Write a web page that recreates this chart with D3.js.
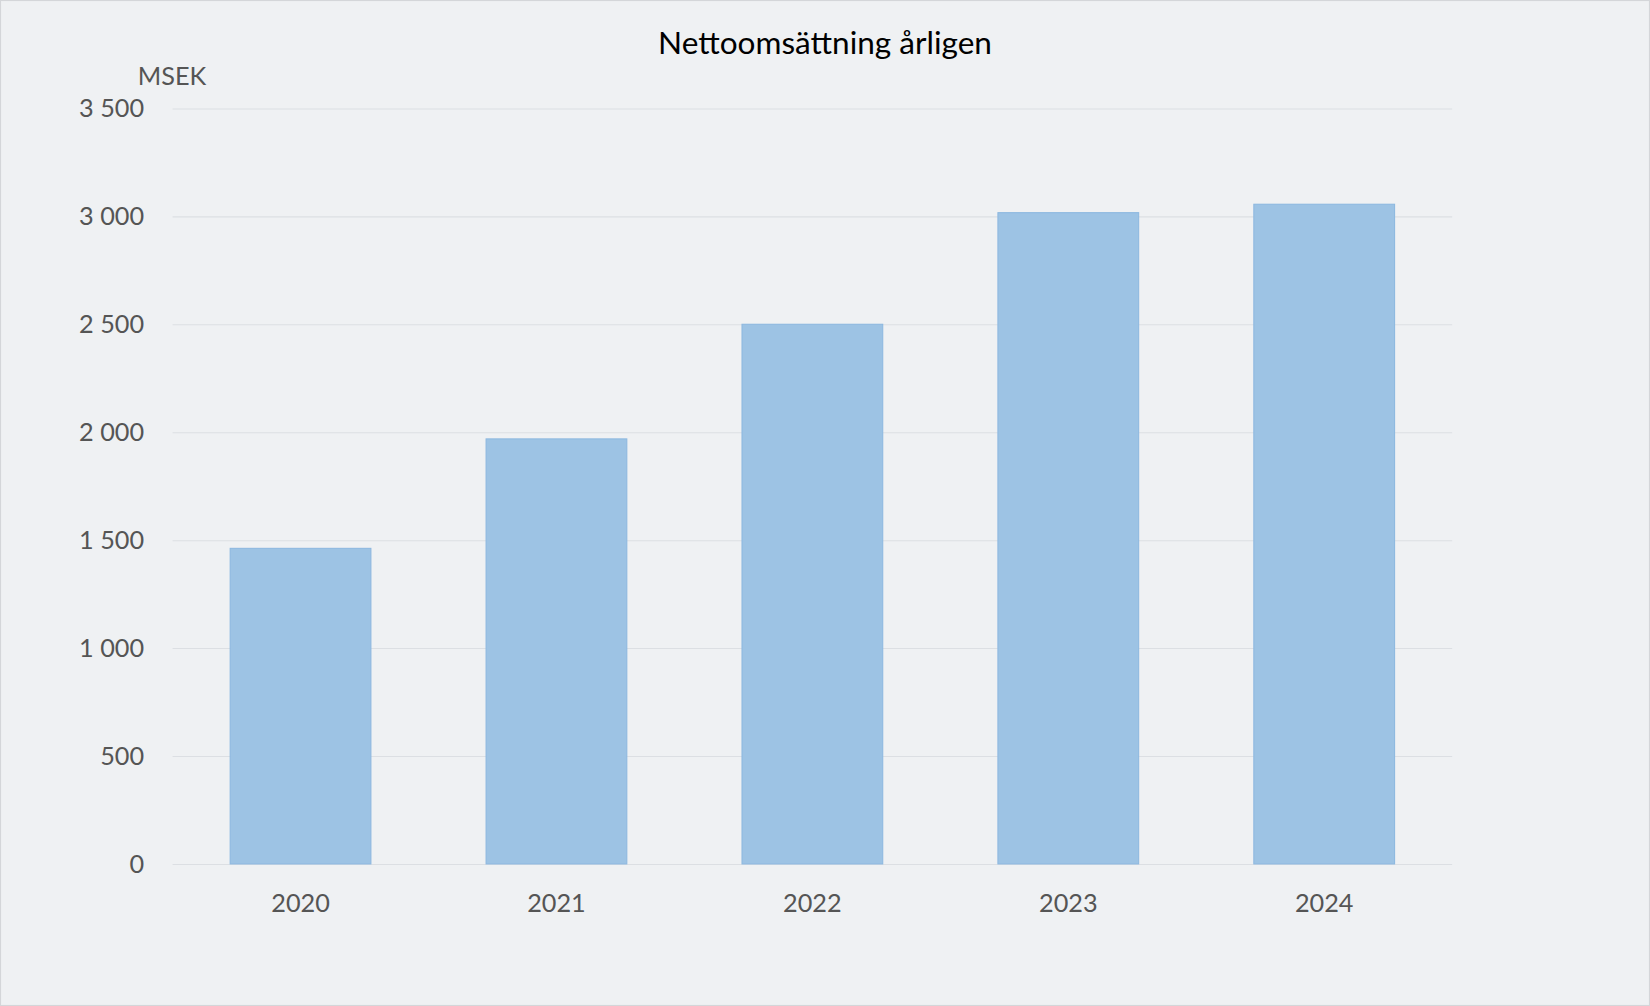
<!DOCTYPE html>
<html><head><meta charset="utf-8">
<script src="https://cdn.jsdelivr.net/npm/d3@7"></script>
<style>
body { margin: 0; background: #eff1f3; }
svg { display: block; }
</style></head>
<body>
<svg id="chart" width="1650" height="1006" viewBox="0 0 1568 956"></svg>
<script>
// data
const years = ["2020", "2021", "2022", "2023", "2024"];
const netSales = [1462, 1969, 2500, 3017, 3056];
const yTicks = [0, 500, 1000, 1500, 2000, 2500, 3000, 3500];

const svg = d3.select("#chart");
const font = "Lato, 'Open Sans', sans-serif";

svg.append("rect").attr("x", 0.5).attr("y", 0.5).attr("width", 1567).attr("height", 955)
    .attr("fill", "#eff1f3").attr("stroke", "#d4d6d9");

const x = d3.scaleBand().domain(years).range([164, 1380]).paddingInner(0.45).paddingOuter(0.225);
const y = d3.scaleLinear().domain([0, 3500]).range([821, 103]);

// gridlines
svg.append("g").selectAll("line").data(yTicks).join("line")
    .attr("x1", 164).attr("x2", 1380)
    .attr("y1", d => y(d) + 0.5).attr("y2", d => y(d) + 0.5)
    .attr("stroke", "#dcdfe3").attr("stroke-width", 1);

// y axis labels
const fmt = d => d3.format(",")(d).replace(/,/g, "\u2009");
svg.append("g").selectAll("text").data(yTicks).join("text")
    .attr("x", 137).attr("y", d => y(d)).attr("dy", "0.35em")
    .attr("text-anchor", "end").attr("font-family", font).attr("font-size", 24)
    .attr("fill", "#555").text(d => d3.format(",")(d).replace(/,/g, " "));

// bars
svg.append("g").selectAll("rect").data(netSales).join("rect")
    .attr("x", (d, i) => x(years[i])).attr("width", x.bandwidth())
    .attr("y", d => y(d)).attr("height", d => y(0) - y(d))
    .attr("fill", "#9dc3e4").attr("stroke", "#8db8e0").attr("stroke-width", 1);

// x labels
svg.append("g").selectAll("text").data(years).join("text")
    .attr("x", d => x(d) + x.bandwidth() / 2).attr("y", 858).attr("dy", "0.35em")
    .attr("text-anchor", "middle").attr("font-family", font).attr("font-size", 24)
    .attr("fill", "#555").text(d => d);

svg.append("text").attr("x", 784).attr("y", 41).attr("dy", "0.35em")
    .attr("text-anchor", "middle").attr("font-family", font).attr("font-size", 30)
    .attr("fill", "#000").text("Nettoomsättning årligen");

svg.append("text").attr("x", 131).attr("y", 72).attr("dy", "0.35em")
    .attr("font-family", font).attr("font-size", 24)
    .attr("fill", "#555").text("MSEK");
</script>
</body></html>
